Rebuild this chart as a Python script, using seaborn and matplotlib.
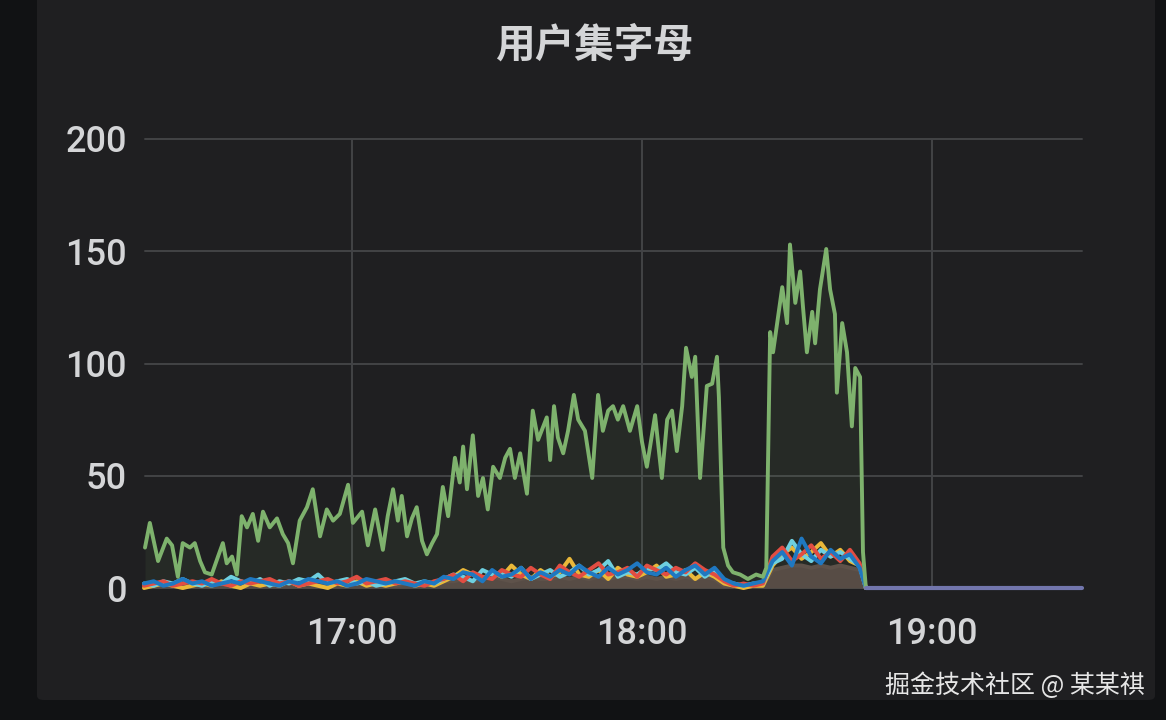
import numpy as np
import pandas as pd
import matplotlib
matplotlib.use("Agg")
import matplotlib.pyplot as plt
from matplotlib.patches import FancyBboxPatch
import seaborn as sns

# ---------------- data ----------------
title = "用户集字母"
watermark = "掘金技术社区 @ 某某祺"
tick_minutes = [60, 120, 180]          # minutes after 16:00
tick_labels = ["17:00", "18:00", "19:00"]
y_ticks = [0, 50, 100, 150, 200]
x_range = [17.2, 211.0]

# green series: minutes after 16:00, value
green_t = [17.2, 18.2, 19.9, 21.7, 22.8, 24.0, 25.0, 26.5, 27.5, 28.6,
           29.6, 31.0, 32.3, 33.3, 34.1, 35.2, 36.2, 37.2, 38.3, 39.5,
           40.6, 41.6, 43.0, 44.5, 45.7, 46.8, 47.8, 49.2, 50.7, 51.9,
           53.4, 54.8, 56.1, 57.5, 59.2, 60.2, 62.1, 63.3, 64.8, 66.4,
           67.4, 68.5, 69.5, 70.3, 71.4, 72.4, 73.4, 74.5, 75.5, 76.6,
           77.6, 78.8, 79.9, 81.3, 82.3, 83.0, 83.8, 85.0, 86.1, 87.1,
           88.1, 89.2, 90.6, 91.7, 92.7, 93.7, 94.8, 96.2, 97.4, 98.5,
           100.3, 101.0, 101.8, 102.6, 103.7, 104.7, 105.9, 106.8, 108.2, 109.7,
           110.9, 111.9, 113.0, 114.0, 115.0, 116.1, 117.5, 119.0, 120.0, 121.0,
           122.7, 124.1, 125.2, 126.2, 127.2, 128.3, 129.1, 130.3, 131.0, 132.0,
           133.4, 134.5, 135.5, 135.9, 136.8, 137.8, 138.8, 140.3, 141.9, 143.6,
           145.0, 145.7, 146.5, 147.1, 149.0, 150.0, 150.6, 151.7, 152.7, 153.3,
           154.1, 155.2, 155.8, 156.8, 158.1, 158.9, 159.9, 160.3, 161.4, 162.4,
           163.4, 164.1, 165.1, 165.7, 166.3]
green_v = [18, 29, 12, 22, 19, 5, 20, 18, 20, 12,
           7, 6, 14, 20, 11, 14, 6, 32, 27, 33,
           21, 34, 27, 31, 24, 20, 11, 30, 36, 44,
           23, 35, 30, 33, 46, 29, 34, 19, 35, 17,
           32, 44, 30, 41, 23, 31, 36, 21, 15, 20,
           24, 45, 32, 58, 47, 63, 44, 68, 41, 49,
           35, 54, 49, 58, 62, 49, 60, 42, 79, 66,
           76, 57, 81, 67, 60, 70, 86, 75, 70, 49,
           86, 70, 79, 81, 75, 81, 70, 81, 65, 54,
           77, 49, 75, 79, 61, 81, 107, 94, 103, 49,
           90, 91, 103, 85, 18, 10, 7, 6, 4, 6,
           5, 9, 114, 105, 134, 118, 153, 127, 141, 125,
           105, 123, 109, 133, 151, 133, 122, 87, 118, 105,
           72, 98, 94, 16, 0]

# small series, sampled every 2 minutes from 16:17 to 18:45, then dropping to 0
small_t = list(range(17, 167, 2)) + [166.3]
blue_v = [2, 3, 1, 2, 4, 2, 3, 1, 2, 3, 2, 4, 3, 2, 1, 3, 2, 4, 3, 2, 3, 1, 2, 4, 3, 2, 3, 2, 1, 3, 2,
          5, 4, 7, 6, 3, 8, 5, 6, 9, 4, 7, 5, 8, 6, 10, 7, 5, 9, 6, 8, 11, 7, 6, 9, 5, 8, 10, 6, 9,
          4, 2, 1, 2, 3,
          12, 16, 10, 22, 14, 11, 17, 13, 15, 9, 0]
red_v = [1, 2, 3, 1, 2, 3, 2, 4, 2, 1, 3, 2, 3, 4, 2, 3, 1, 2, 3, 4, 2, 3, 5, 2, 3, 4, 2, 3, 2, 1, 3,
         4, 6, 3, 7, 5, 4, 8, 6, 5, 9, 6, 4, 10, 7, 5, 8, 11, 6, 7, 9, 5, 10, 8, 6, 9, 7, 11, 8, 6,
         3, 1, 2, 1, 2,
         14, 18, 12, 15, 19, 13, 16, 12, 17, 11, 0]
yellow_v = [0, 1, 2, 1, 0, 1, 2, 1, 3, 1, 0, 2, 1, 2, 1, 3, 1, 2, 1, 0, 2, 1, 3, 1, 2, 1, 2, 3, 1, 2, 1,
            3, 5, 8, 6, 4, 7, 5, 10, 6, 4, 8, 5, 7, 13, 6, 5, 8, 4, 9, 6, 5, 7, 10, 5, 6, 8, 4, 7, 5,
            2, 1, 0, 1, 1,
            10, 15, 18, 13, 16, 20, 14, 17, 12, 10, 0]
cyan_v = [2, 1, 3, 2, 4, 2, 1, 3, 2, 5, 3, 2, 4, 1, 3, 2, 4, 3, 6, 2, 3, 4, 2, 3, 1, 2, 3, 4, 2, 3, 2,
          4, 6, 5, 3, 8, 6, 7, 5, 9, 4, 6, 8, 5, 7, 10, 6, 8, 12, 5, 7, 6, 9, 8, 11, 7, 6, 9, 5, 8,
          3, 2, 1, 2, 2,
          11, 13, 21, 15, 12, 17, 14, 16, 13, 10, 0]
base_v = [1, 1, 2, 1, 1, 2, 1, 1, 2, 1, 1, 2, 2, 1, 1, 2, 1, 2, 1, 1, 2, 1, 2, 2, 1, 2, 1, 2, 1, 1, 2,
          3, 3, 4, 3, 4, 5, 4, 3, 4, 5, 4, 4, 5, 4, 5, 4, 5, 4, 5, 5, 4, 5, 4, 5, 4, 5, 4, 5, 4,
          1, 1, 1, 1, 1,
          8, 9, 10, 10, 9, 10, 9, 10, 9, 8, 0]
flat_t = [166.3, 211.0]
flat_v = [0, 0]

# ---------------- style ----------------
BG_OUT = "#111214"
PANEL = "#1f1f21"
GRID = "#424346"
TXT = "#d4d5d7"

sns.set_theme(style="dark")
plt.rcParams["font.family"] = ["Roboto", "Noto Sans CJK SC", "DejaVu Sans"]

fig = plt.figure(figsize=(11.66, 7.2), dpi=100, facecolor=BG_OUT)
fig.patches.append(FancyBboxPatch((37 / 1166, 20 / 720), (1155 - 37) / 1166, 0.99,
                                  boxstyle="round,pad=0,rounding_size=0.006",
                                  transform=fig.transFigure, facecolor=PANEL,
                                  edgecolor="none", zorder=-10))

ax = fig.add_axes([145 / 1166, 1 - 588 / 720, (1082 - 145) / 1166, (588 - 139) / 720])
ax.set_zorder(2)
ax.set_facecolor(PANEL)
ax.patch.set_alpha(0)

df_small = pd.DataFrame({"t": small_t, "base": base_v, "yellow": yellow_v,
                         "cyan": cyan_v, "red": red_v, "blue": blue_v})
long = df_small.melt(id_vars="t", var_name="series", value_name="v")

ax.fill_between(df_small["t"], 0, df_small["base"], color="#574c45", lw=0, zorder=2)

palette = {"base": "#5e524a", "yellow": "#eab839", "cyan": "#6ed0e0",
           "red": "#e24d42", "blue": "#1f78c1"}
sns.lineplot(data=long, x="t", y="v", hue="series", palette=palette,
             hue_order=["base", "yellow", "cyan", "red", "blue"],
             lw=2.9, legend=False, ax=ax, zorder=3)

df_green = pd.DataFrame({"t": green_t, "v": green_v})
ax.fill_between(df_green["t"], 0, df_green["v"], color="#7eb26d", alpha=0.08, lw=0, zorder=1)
sns.lineplot(data=df_green, x="t", y="v", color="#7eb26d", lw=2.8, ax=ax, zorder=4)

df_flat = pd.DataFrame({"t": flat_t, "v": flat_v})
sns.lineplot(data=df_flat, x="t", y="v", color="#7276ad", lw=3.0, ax=ax, zorder=5)
for ln in ax.lines:
    ln.set_clip_on(False)

ax.set_xlim(*x_range)
ax.set_ylim(0, 200)
ax.set_xticks(tick_minutes)
ax.set_xticklabels(tick_labels)
ax.set_yticks(y_ticks)
ax.set_yticklabels([str(v) for v in y_ticks])
ax.set_xlabel("")
ax.set_ylabel("")
for s in ax.spines.values():
    s.set_visible(False)
ax.grid(True, color=GRID, lw=1.4)
ax.set_axisbelow(True)
for gl in ax.get_ygridlines():
    gl.set_clip_on(False)
ax.tick_params(axis="both", length=0, colors=TXT, labelsize=26)
ax.tick_params(axis="x", pad=21)
ax.tick_params(axis="y", pad=13)
for lab in ax.get_xticklabels() + ax.get_yticklabels():
    lab.set_fontweight("medium")

fig.text(594 / 1166, 1 - 45 / 720, title, ha="center", va="center", color=TXT,
         fontsize=28.5, fontweight="bold", family=["Noto Sans CJK SC", "DejaVu Sans"])
fig.text(1145 / 1166, 1 - 686 / 720, watermark, ha="right", va="center", color="#e6e6e6",
         fontsize=18, family=["Noto Sans CJK SC", "DejaVu Sans"])

fig.savefig("out.png", dpi=100, facecolor=BG_OUT)
